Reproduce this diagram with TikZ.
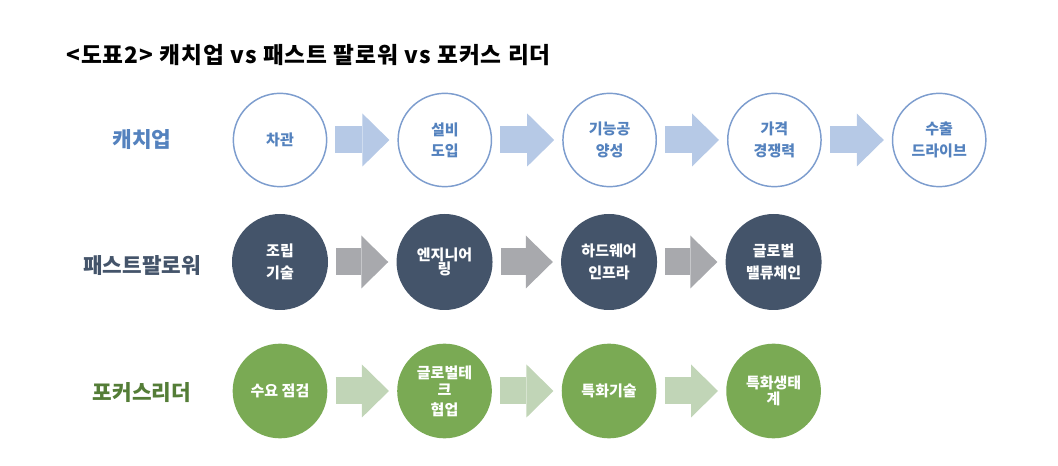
\documentclass[tikz,border=0pt]{standalone}
\usepackage{fontspec}
\setmainfont{Noto Sans CJK KR}
\usetikzlibrary{positioning, arrows.meta}
\definecolor{catchtext}{RGB}{84,130,190}
\definecolor{catchline}{RGB}{125,157,206}
\definecolor{catcharrow}{RGB}{182,201,230}
\definecolor{fastfill}{RGB}{68,84,106}
\definecolor{fastarrow}{RGB}{168,169,173}
\definecolor{focusfill}{RGB}{122,170,84}
\definecolor{focusarrow}{RGB}{193,213,183}
\definecolor{focustext}{RGB}{84,125,55}

\begin{document}
\begin{tikzpicture}[
  x=0.75pt,
  y=-0.75pt,
  every node/.style={
    font=\bfseries\fontsize{11.25}{16}\selectfont,
    align=center,
    inner sep=0pt
  },
  row label/.style={
    font=\bfseries\fontsize{16}{18}\selectfont
  },
  catch node/.style={
    circle,
    draw=catchline,
    line width=1.1pt,
    fill=white,
    text=catchtext,
    minimum size=70pt
  },
  fast node/.style={
    circle,
    fill=fastfill,
    text=white,
    minimum size=72pt
  },
  focus node/.style={
    circle,
    fill=focusfill,
    text=white,
    minimum size=71pt
  },
  move arrow/.style={
    line width=20.25pt,
    -{Triangle[length=20.25pt, width=39.75pt, line width=0pt]},
    shorten <=6pt,
    shorten >=6pt
  }
]
\useasboundingbox (0,0) rectangle (1058,466);

\node(title)[anchor=west, font=\bfseries\fontsize{17}{19}\selectfont\addfontfeatures{LetterSpace=4.5}] at (66,55)
  {<도표2> 캐치업 vs 패스트 팔로워 vs 포커스 리더};

% catch-up row
\node(catchlbl)[row label, text=catchtext] at (142,140) {캐치업};
\node(catch1)[catch node] at (280,140) {차관};
\node(catch2)[catch node, right=52.5pt of catch1] {설비\\도입};
\node(catch3)[catch node, right=52.5pt of catch2] {기능공\\양성};
\node(catch4)[catch node, right=52.5pt of catch3] {가격\\경쟁력};
\node(catch5)[catch node, right=52.5pt of catch4] {수출\\드라이브};

\draw[move arrow, draw=catcharrow] (catch1) -- (catch2);
\draw[move arrow, draw=catcharrow] (catch2) -- (catch3);
\draw[move arrow, draw=catcharrow] (catch3) -- (catch4);
\draw[move arrow, draw=catcharrow] (catch4) -- (catch5);

% fast follower row
\node(fastlbl)[row label, text=fastfill] at (142,266) {패스트팔로워};
\node(fast1)[fast node] at (280,262) {조립\\기술};
\node(fast2)[fast node, right=51pt of fast1] {엔지니어\\[-5.5pt]링};
\node(fast3)[fast node, right=51pt of fast2] {하드웨어\\인프라};
\node(fast4)[fast node, right=51pt of fast3] {글로벌\\밸류체인};

\draw[move arrow, draw=fastarrow] (fast1) -- (fast2);
\draw[move arrow, draw=fastarrow] (fast2) -- (fast3);
\draw[move arrow, draw=fastarrow] (fast3) -- (fast4);

% focus leader row
\node(focuslbl)[row label, text=focustext] at (142,393) {포커스리더};
\node(focus1)[focus node] at (280,391) {수요 점검};
\node(focus2)[focus node, right=52pt of focus1] {글로벌테\\[-3.5pt]크\\[-1pt]협업};
\node(focus3)[focus node, right=52pt of focus2] {특화기술};
\node(focus4)[focus node, right=52pt of focus3] {특화생태\\[-3.5pt]계};

\draw[move arrow, draw=focusarrow] (focus1) -- (focus2);
\draw[move arrow, draw=focusarrow] (focus2) -- (focus3);
\draw[move arrow, draw=focusarrow] (focus3) -- (focus4);

\end{tikzpicture}
\end{document}
